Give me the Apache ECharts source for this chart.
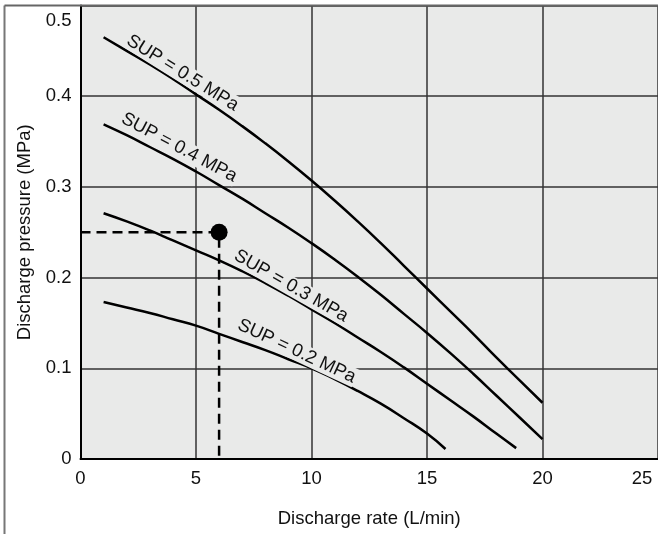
<!DOCTYPE html>
<html><head><meta charset="utf-8">
<script src="https://cdn.jsdelivr.net/npm/echarts@6/dist/echarts.min.js"></script>
<style>html,body{margin:0;padding:0;background:#fff}#c{width:658px;height:534px}</style>
</head><body><div id="c"></div>
<script>
// ---- data ----
const xTicks = [0, 5, 10, 15, 20, 25];
const yTicks = [0, 0.1, 0.2, 0.3, 0.4, 0.5];
const sup05 = [[1,0.465],[2,0.45],[3,0.435],[4,0.419],[5,0.402],[6,0.385],[7,0.367],[8,0.348],[9,0.328],[10,0.307],[11,0.285],[12,0.262],[13,0.238],[14,0.213],[15,0.188],[16,0.163],[17,0.138],[18,0.112],[19,0.087],[20,0.062]];
const sup04 = [[1,0.369],[2,0.357],[3,0.344],[4,0.331],[5,0.317],[6,0.302],[7,0.287],[8,0.271],[9,0.255],[10,0.238],[11,0.22],[12,0.201],[13,0.181],[14,0.16],[15,0.139],[16,0.117],[17,0.094],[18,0.07],[19,0.046],[20,0.022]];
const sup03 = [[1,0.271],[2,0.262],[3,0.252],[4,0.241],[5,0.23],[6,0.219],[7,0.207],[8,0.194],[9,0.18],[10,0.165],[11,0.15],[12,0.134],[13,0.118],[14,0.101],[15,0.083],[16,0.065],[17,0.047],[18,0.028],[18.86,0.012]];
const sup02 = [[1,0.173],[2,0.167],[3,0.161],[4,0.154],[5,0.147],[6,0.138],[7,0.129],[8,0.12],[9,0.11],[10,0.1],[11,0.088],[12,0.075],[13,0.061],[14,0.045],[15,0.028],[15.8,0.011]];
const opPoint = [6, 0.25];
const guide = [[0,0.25],[6,0.25],[6,0]];
const curveNames = ['SUP = 0.5 MPa','SUP = 0.4 MPa','SUP = 0.3 MPa','SUP = 0.2 MPa'];
// label anchors (data coords) and angles
const labelAnchors = [[4.42,0.4256],[4.27,0.3434],[9.12,0.1907],[9.36,0.119]];
const labelAngles = [-32,-28,-29.6,-25];

const FONT = '"Liberation Sans", Arial, Helvetica, sans-serif';
const FS = 18.5;
const BG = '#e9eae9';
const TXT = '#111';
const chart = echarts.init(document.getElementById('c'), null, {renderer:'canvas'});

const curves = [sup05, sup04, sup03, sup02];
const series = curves.map((d, i) => ({
  type: 'line', data: d, smooth: 0.5, symbol: 'none', z: 3,
  lineStyle: {color: '#000', width: 2.5},
  markPoint: {
    symbol: 'circle', symbolSize: 0, silent: true,
    data: [{coord: labelAnchors[i], name: curveNames[i]}],
    label: {show: true, position: 'inside', formatter: curveNames[i], rotate: labelAngles[i],
      color: TXT, fontSize: FS, fontFamily: FONT, backgroundColor: BG, padding: [0,1]}
  }
}));
series.push({type:'line', data: guide, symbol:'none', z: 2,
  lineStyle:{color:'#000', width:2.5, type:[10,6]}});
series.push({type:'scatter', data:[opPoint], symbol:'circle', symbolSize:17, z: 4,
  itemStyle:{color:'#000', opacity: 1}});

chart.setOption({
  animation: false,
  backgroundColor: '#fff',
  grid: {left: 80.5, top: 5.5, bottom: 75, right: -5, show: true, backgroundColor: BG, borderWidth: 0},
  xAxis: {
    type: 'value', min: xTicks[0], max: xTicks[xTicks.length-1], interval: 5,
    name: 'Discharge rate (L/min)', nameLocation: 'middle', nameGap: 50,
    nameTextStyle: {fontSize: FS, fontFamily: FONT, color: TXT},
    axisLine: {show: true, lineStyle: {color: '#000', width: 2}},
    axisTick: {show: false},
    splitLine: {show: true, lineStyle: {color: '#333', width: 1.5}},
    axisLabel: {fontSize: FS, fontFamily: FONT, color: TXT, margin: 10,
      formatter: v => v === 25 ? '{last|25}' : String(v),
      rich: {last: {fontSize: FS, fontFamily: FONT, color: TXT, padding: [0,32,0,0]}}}
  },
  yAxis: {
    type: 'value', min: yTicks[0], max: yTicks[yTicks.length-1], interval: 0.1,
    name: 'Discharge pressure (MPa)', nameLocation: 'middle', nameGap: 46,
    nameTextStyle: {fontSize: FS, fontFamily: FONT, color: TXT},
    axisLine: {show: true, lineStyle: {color: '#000', width: 2}},
    axisTick: {show: false},
    splitLine: {show: true, lineStyle: {color: '#333', width: 1.5}},
    axisLabel: {fontSize: FS, fontFamily: FONT, color: TXT, margin: 9,
      formatter: v => Math.abs(v - 0.5) < 1e-9 ? '{top|0.5}' : (v === 0 ? '0' : v.toFixed(1)),
      rich: {top: {fontSize: FS, fontFamily: FONT, color: TXT, padding: [31,0,0,0]}}}
  },
  graphic: [
    {type:'line', shape:{x1:4.5, y1:5.5, x2:4.5, y2:534}, style:{stroke:'#777', lineWidth:2}, z: 10},
    {type:'line', shape:{x1:4.5, y1:5.5, x2:658, y2:5.5}, style:{stroke:'#666', lineWidth:2}, z: 10}
  ],
  series: series
});
</script></body></html>
